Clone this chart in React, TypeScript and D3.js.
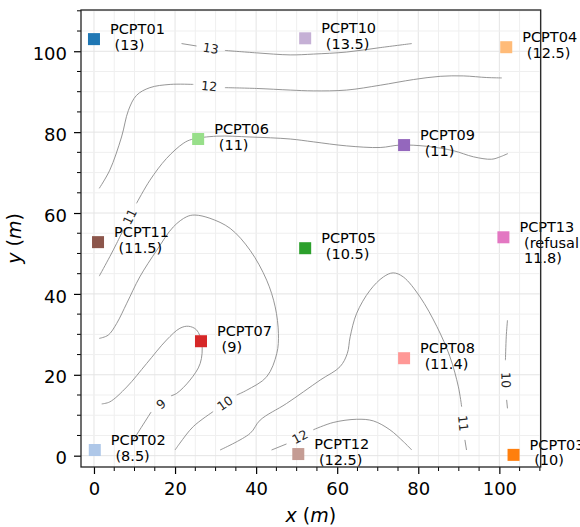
import React, { useRef, useEffect } from 'react';
import * as d3 from 'd3';

// sensor locations (m) and measured values
const sensorNames = ['PCPT01', 'PCPT02', 'PCPT03', 'PCPT04', 'PCPT05', 'PCPT06', 'PCPT07', 'PCPT08', 'PCPT09', 'PCPT10', 'PCPT11', 'PCPT12', 'PCPT13'];
const sensorX = [0, 0.2, 103.5, 101.7, 52.1, 25.7, 26.4, 76.5, 76.5, 52.1, 1.0, 50.4, 101.0];
const sensorY = [103.0, 1.4, 0.2, 101.0, 51.3, 78.3, 28.3, 24.1, 76.8, 103.2, 52.8, 0.4, 54.0];
const sensorValues = ['13', '8.5', '10', '12.5', '10.5', '11', '9', '11.4', '11', '13.5', '11.5', '12.5', 'refusal\n11.8'];
const sensorColors = ['#1f77b4', '#aec7e8', '#ff7f0e', '#ffbb78', '#2ca02c', '#98df8a', '#d62728', '#ff9896', '#9467bd', '#c5b0d5', '#8c564b', '#c49c94', '#e377c2'];

// contour lines, split where the inline label sits (head -> label -> tail)
const contourLevels = [13, 12, 11, 10, 9, 11, 12, 10];
const contourHeads = [
    [[21.6, 101.9], [25.3, 101.3]],
    [[1.3, 66.1], [3.9, 70.6], [6.8, 78.8], [8.5, 85.4], [10.5, 89.1], [13.8, 91.0], [18.8, 91.8], [24.5, 91.8]],
    [[1.3, 44.4], [3.9, 49.2], [5.6, 52.5], [7.2, 55.8]],
    [[1.3, 29.0], [3.5, 29.8], [5.6, 32.7], [8.1, 37.7], [11.3, 44.2], [15.5, 50.8], [19.6, 56.6], [22.9, 59.1], [24.9, 59.5], [28.6, 58.7], [33.6, 56.2], [38.5, 50.8], [42.6, 43.4], [44.7, 36.8], [45.5, 30.2], [45.1, 25.3], [42.6, 19.5], [37.7, 16.2], [35.2, 15.0]],
    [[1.9, 12.8], [3.9, 13.3], [8.1, 17.0], [13.0, 22.8], [17.9, 28.6], [21.2, 31.5], [23.3, 32.0], [25.3, 31.1], [26.6, 27.8], [26.2, 22.8], [23.7, 18.7], [20.4, 15.4], [19.0, 14.8]],
    [[31.1, 1.4], [38.5, 5.5], [41.0, 8.8], [47.5, 12.9], [55.8, 18.7], [60.7, 22.0], [62.5, 25.3], [63.2, 29.4], [64.8, 35.2], [68.1, 40.9], [71.4, 44.2], [73.8, 45.2], [76.3, 44.2], [80.4, 39.3], [84.6, 31.9], [87.8, 24.5], [89.9, 17.0], [90.7, 12.1]],
    [[43.8, 1.4], [47.5, 2.9]],
    [[102.0, 33.5], [101.7, 29.4], [101.5, 23.6]],
];
const contourTails = [
    [[32.3, 100.2], [40.1, 99.6], [48.4, 99.1], [54.1, 99.3], [62.3, 99.8], [70.6, 100.9], [78.4, 101.9]],
    [[32.3, 91.0], [40.1, 90.8], [48.4, 90.4], [54.1, 90.2], [62.3, 90.4], [70.6, 91.6], [78.8, 93.0], [85.4, 93.8], [91.1, 93.9], [96.9, 93.5], [100.6, 93.4]],
    [[10.5, 62.4], [13.8, 68.1], [17.9, 73.5], [22.0, 77.2], [24.1, 78.2], [30.3, 79.0], [38.5, 78.8], [48.4, 78.3], [54.1, 77.6], [62.3, 76.6], [70.6, 76.2], [75.5, 76.8], [82.1, 76.5], [88.7, 75.4], [93.6, 73.9], [98.1, 73.3], [100.2, 73.9], [102.1, 74.7]],
    [[29.4, 10.9], [24.5, 7.2], [21.2, 3.1], [20.0, 1.4]],
    [[14.1, 10.8], [11.3, 6.4], [9.7, 3.9]],
    [[91.5, 3.9], [91.9, 1.4]],
    [[54.1, 6.4], [59.0, 8.2], [64.8, 9.0], [68.9, 8.6], [73.0, 6.4], [76.3, 3.5], [78.4, 1.4]],
    [[101.8, 13.8], [102.0, 11.7]],
];

const xMajorTicks = [0, 20, 40, 60, 80, 100];
const yMajorTicks = [0, 20, 40, 60, 80, 100];

export default function App() {
    const svgRef = useRef<SVGSVGElement>(null);
    const width = 580;
    const height = 527;
    const margin = { top: 10, right: 39.3, bottom: 60, left: 81 };

    useEffect(() => {
        const svg = d3.select(svgRef.current);
        svg.selectAll('*').remove();
        const font = 'DejaVu Sans, sans-serif';

        const x = d3.scaleLinear()
            .domain([-3.2, 110.2])
            .range([margin.left, width - margin.right]);
        const y = d3.scaleLinear()
            .domain([-2.8, 110.2])
            .range([height - margin.bottom, margin.top]);

        const [x0, x1] = x.domain();
        const [y0, y1] = y.domain();
        const xMinor = d3.range(0, 111, 5).filter(v => v >= x0 && v <= x1 && !xMajorTicks.includes(v));
        const yMinor = d3.range(0, 111, 5).filter(v => v >= y0 && v <= y1 && !yMajorTicks.includes(v));

        // grid (major + minor, every 5 m)
        const grid = svg.append('g');
        grid.selectAll('line.gx')
            .data([...xMinor, ...xMajorTicks])
            .join('line')
            .attr('x1', d => x(d)).attr('x2', d => x(d))
            .attr('y1', y(y0)).attr('y2', y(y1))
            .attr('stroke', d => xMajorTicks.includes(d) ? '#e4e4e4' : '#efefef')
            .attr('stroke-width', 1);
        grid.selectAll('line.gy')
            .data([...yMinor, ...yMajorTicks])
            .join('line')
            .attr('y1', d => y(d)).attr('y2', d => y(d))
            .attr('x1', x(x0)).attr('x2', x(x1))
            .attr('stroke', d => yMajorTicks.includes(d) ? '#e4e4e4' : '#efefef')
            .attr('stroke-width', 1);

        // contour lines
        const line = d3.line<number[]>()
            .x(d => x(d[0]))
            .y(d => y(d[1]))
            .curve(d3.curveCatmullRom.alpha(0.5));

        const contours = svg.append('g');
        [...contourHeads, ...contourTails].forEach(seg => {
            contours.append('path')
                .attr('d', line(seg))
                .attr('fill', 'none')
                .attr('stroke', '#8a8a8a')
                .attr('stroke-width', 0.9);
        });

        // inline contour labels, in the gap between head and tail
        contourLevels.forEach((level, i) => {
            const a = contourHeads[i][contourHeads[i].length - 1];
            const b = contourTails[i][0];
            const ax = x(a[0]), ay = y(a[1]);
            const bx = x(b[0]), by = y(b[1]);
            let ang = Math.atan2(by - ay, bx - ax) * 180 / Math.PI;
            if (ang > 90) ang -= 180;
            if (ang < -90) ang += 180;
            const cx = (ax + bx) / 2, cy = (ay + by) / 2;
            contours.append('text')
                .attr('transform', `translate(${cx},${cy}) rotate(${ang})`)
                .attr('text-anchor', 'middle')
                .attr('dominant-baseline', 'central')
                .attr('font-family', font)
                .attr('font-size', 12.5)
                .attr('fill', '#222')
                .text(level);
        });

        // sensor markers
        const markerSize = 12;
        svg.append('g')
            .selectAll('rect')
            .data(sensorNames)
            .join('rect')
            .attr('x', (d, i) => x(sensorX[i]) - markerSize / 2)
            .attr('y', (d, i) => y(sensorY[i]) - markerSize / 2)
            .attr('width', markerSize)
            .attr('height', markerSize)
            .attr('fill', (d, i) => sensorColors[i]);

        // sensor labels
        const labels = svg.append('g')
            .attr('font-family', font)
            .attr('font-size', 14.5)
            .attr('fill', '#000')
            .style('white-space', 'pre');
        sensorNames.forEach((name, i) => {
            const lines = [name, ...`(${sensorValues[i]})`.split('\n').map(s => ' ' + s)];
            const t = labels.append('text')
                .attr('x', x(sensorX[i]) + 16)
                .attr('y', y(sensorY[i]) - 5);
            lines.forEach((l, j) => {
                t.append('tspan')
                    .attr('x', x(sensorX[i]) + 16)
                    .attr('dy', j === 0 ? 0 : 15.5)
                    .text(l);
            });
        });

        // axes
        const tickFont = 18;
        const xAxis = svg.append('g')
            .attr('transform', `translate(0,${height - margin.bottom})`)
            .call(d3.axisBottom(x).tickValues(xMajorTicks).tickSize(7).tickPadding(8).tickSizeOuter(0))
            .call(g => g.select('.domain').remove());
        xAxis.selectAll('.tick text').attr('font-size', tickFont).attr('font-family', font).attr('fill', '#000');
        xAxis.selectAll('.tick line').attr('stroke', '#000').attr('stroke-width', 1.2);
        svg.append('g')
            .selectAll('line')
            .data(xMinor)
            .join('line')
            .attr('x1', d => x(d)).attr('x2', d => x(d))
            .attr('y1', height - margin.bottom).attr('y2', height - margin.bottom + 4)
            .attr('stroke', '#000').attr('stroke-width', 1);

        const yAxis = svg.append('g')
            .attr('transform', `translate(${margin.left},0)`)
            .call(d3.axisLeft(y).tickValues(yMajorTicks).tickSize(7).tickPadding(7).tickSizeOuter(0))
            .call(g => g.select('.domain').remove());
        yAxis.selectAll('.tick text').attr('font-size', tickFont).attr('font-family', font).attr('fill', '#000').attr('dy', '0.45em');
        yAxis.selectAll('.tick line').attr('stroke', '#000').attr('stroke-width', 1.2);
        svg.append('g')
            .selectAll('line')
            .data(yMinor)
            .join('line')
            .attr('y1', d => y(d)).attr('y2', d => y(d))
            .attr('x1', margin.left).attr('x2', margin.left - 4)
            .attr('stroke', '#000').attr('stroke-width', 1);

        // frame
        svg.append('rect')
            .attr('x', margin.left)
            .attr('y', margin.top)
            .attr('width', width - margin.left - margin.right)
            .attr('height', height - margin.top - margin.bottom)
            .attr('fill', 'none')
            .attr('stroke', '#222')
            .attr('stroke-width', 1.3);

        // axis titles
        const xTitle = svg.append('text')
            .attr('x', (margin.left + width - margin.right) / 2)
            .attr('y', 521.5)
            .attr('text-anchor', 'middle')
            .attr('font-family', font)
            .attr('font-size', 19)
            .style('white-space', 'pre');
        xTitle.append('tspan').attr('font-style', 'italic').text('x');
        xTitle.append('tspan').text(' (');
        xTitle.append('tspan').attr('font-style', 'italic').text('m');
        xTitle.append('tspan').text(')');

        const yTitle = svg.append('text')
            .attr('transform', `translate(21,${(margin.top + height - margin.bottom) / 2}) rotate(-90)`)
            .attr('text-anchor', 'middle')
            .attr('font-family', font)
            .attr('font-size', 19)
            .style('white-space', 'pre');
        yTitle.append('tspan').attr('font-style', 'italic').text('y');
        yTitle.append('tspan').text(' (');
        yTitle.append('tspan').attr('font-style', 'italic').text('m');
        yTitle.append('tspan').text(')');
    }, []);

    return (
        <svg
            ref={svgRef}
            width={width}
            height={height}
            viewBox={`0 0 ${width} ${height}`}
            style={{ position: 'absolute', left: 0, top: 0, background: '#fff', overflow: 'visible' }}
        />
    );
}
